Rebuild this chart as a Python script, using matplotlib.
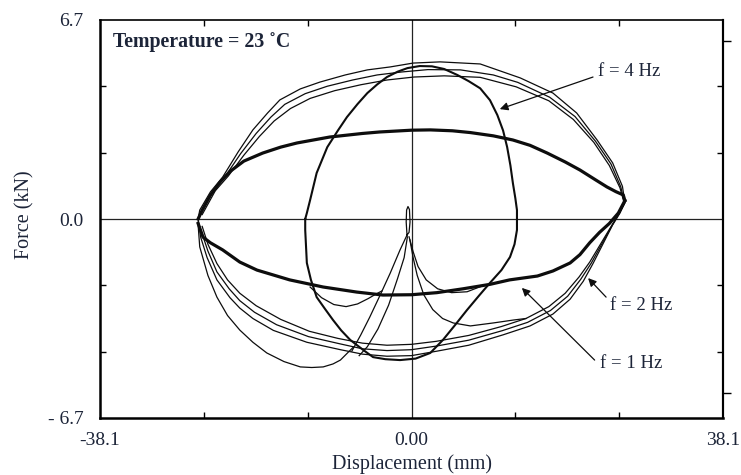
import matplotlib
matplotlib.use('Agg')
import matplotlib.pyplot as plt

plt.rcParams['font.family'] = ['Liberation Serif', 'DejaVu Serif']

# ---- data (displacement mm, force kN) ----
# f = 2 Hz : large loop (outer, middle and inner line of the band of cycles)
f2_up_out_x = [-26.1, -25.9, -24.6, -23.1, -21.2, -19.4, -17.6, -16.1, -13.6, -11.2, -8.1, -5.4, -2.6, 0.2, 3.5, 8.4, 13.3, 17.3, 20.2, 22.7, 24.6, 25.8, 26.1]
f2_up_out_y = [0.0, 0.3, 0.91, 1.41, 2.26, 3.00, 3.57, 4.01, 4.38, 4.61, 4.85, 5.02, 5.12, 5.25, 5.29, 5.22, 4.75, 4.24, 3.57, 2.66, 1.89, 1.10, 0.55]
f2_up_mid_x = [-25.9, -24.3, -22.8, -20.9, -19.0, -17.2, -15.5, -13.0, -10.3, -7.2, -4.2, -1.2, 2.0, 6.0, 10.0, 13.0, 16.9, 20.0, 22.5, 24.4, 25.6, 26.05]
f2_up_mid_y = [0.1, 0.93, 1.43, 2.2, 2.88, 3.43, 3.86, 4.22, 4.47, 4.68, 4.85, 4.95, 5.03, 5.02, 4.85, 4.6, 4.1, 3.45, 2.62, 1.85, 1.08, 0.55]
f2_up_in_x = [-25.6, -24.0, -22.4, -20.5, -18.6, -16.8, -14.8, -12.4, -9.4, -6.2, -3.0, 0.3, 4.0, 8.4, 12.8, 16.8, 19.8, 22.3, 24.2, 25.5, 26.0]
f2_up_in_y = [0.15, 0.95, 1.45, 2.15, 2.78, 3.30, 3.72, 4.06, 4.32, 4.52, 4.68, 4.78, 4.82, 4.77, 4.45, 3.98, 3.35, 2.58, 1.80, 1.05, 0.55]
f2_lo_out_x = [26.1, 25.5, 24.6, 23.4, 22.2, 21.0, 19.4, 17.3, 14.5, 11.2, 7.0, 3.1, 0.0, -3.0, -6.0, -8.7, -12.8, -16.9, -19.4, -21.0, -22.2, -23.8, -25.0, -25.8, -26.1]
f2_lo_out_y = [0.55, 0.2, -0.2, -0.85, -1.5, -2.1, -2.7, -3.2, -3.6, -3.9, -4.25, -4.45, -4.6, -4.62, -4.55, -4.40, -4.15, -3.75, -3.35, -3.0, -2.65, -2.05, -1.3, -0.6, 0.0]
f2_lo_mid_x = [26.05, 25.3, 24.4, 23.2, 22.0, 20.7, 19.1, 17.0, 14.2, 11.1, 7.0, 3.0, 0.0, -3.0, -6.0, -8.8, -12.6, -16.5, -19.2, -21.0, -22.3, -23.8, -24.9, -25.7, -26.1]
f2_lo_mid_y = [0.52, 0.15, -0.28, -0.88, -1.48, -2.03, -2.6, -3.08, -3.48, -3.76, -4.08, -4.28, -4.4, -4.43, -4.37, -4.2, -3.96, -3.56, -3.14, -2.75, -2.35, -1.78, -1.08, -0.42, -0.1]
f2_lo_in_x = [26.0, 25.2, 24.2, 23.0, 21.8, 20.5, 18.8, 16.8, 14.0, 11.0, 7.0, 3.0, 0.0, -3.0, -6.0, -9.0, -12.5, -16.0, -19.0, -21.0, -22.5, -23.8, -24.9, -25.6]
f2_lo_in_y = [0.5, 0.1, -0.35, -0.9, -1.45, -1.95, -2.5, -2.95, -3.35, -3.62, -3.92, -4.12, -4.22, -4.25, -4.18, -4.02, -3.78, -3.38, -2.92, -2.5, -2.05, -1.5, -0.85, -0.25]
# first (transient) cycle, lowest curve on the left
f2_first_x = [-26.1, -25.9, -24.9, -23.8, -22.5, -21.0, -19.4, -17.7, -15.6, -13.6, -12.2, -10.8, -9.6, -8.7, -7.1]
f2_first_y = [-0.2, -0.94, -1.9, -2.63, -3.25, -3.74, -4.15, -4.51, -4.8, -4.98, -5.0, -4.98, -4.88, -4.75, -4.31]

# f = 1 Hz : flat loop
f1_up_x = [-26.1, -25.6, -24.6, -23.4, -22.2, -20.5, -18.2, -16.0, -14.0, -10.0, -6.0, -3.9, 0.0, 2.3, 5.0, 7.2, 10.0, 12.4, 14.5, 16.6, 18.8, 20.6, 22.5, 23.9, 25.0, 25.9, 26.1]
f1_up_y = [0.0, 0.3, 0.8, 1.25, 1.6, 1.95, 2.22, 2.42, 2.56, 2.76, 2.88, 2.93, 2.99, 3.00, 2.97, 2.91, 2.80, 2.66, 2.48, 2.22, 1.92, 1.65, 1.32, 1.08, 0.92, 0.81, 0.62]
f1_lo_x = [26.1, 25.3, 24.2, 23.0, 21.8, 20.6, 19.4, 17.3, 15.4, 12.0, 9.6, 6.3, 3.1, 0.0, -3.5, -6.7, -10.8, -14.9, -18.9, -21.0, -23.1, -24.6, -25.5, -26.1]
f1_lo_y = [0.62, 0.2, -0.15, -0.45, -0.8, -1.2, -1.48, -1.75, -1.92, -2.05, -2.2, -2.35, -2.48, -2.55, -2.56, -2.46, -2.29, -2.05, -1.72, -1.45, -1.04, -0.8, -0.61, -0.15]

# f = 4 Hz : narrow tall loop
f4_x = [-13.0, -12.8, -12.4, -11.6, -10.3, -9.0, -7.9, -6.6, -5.4, -4.2, -3.0, -1.7, -0.5, 1.0, 2.5, 4.0, 5.6, 7.0, 8.4, 9.6, 10.5, 11.2, 11.7, 12.1, 12.4, 12.7, 12.9, 12.9, 12.6, 12.05, 11.0, 9.6, 8.2, 6.8, 5.3, 3.85, 2.3, 0.5, -1.4, -3.2, -4.7, -5.9, -7.5, -8.6, -9.6, -10.6, -11.6, -12.3, -12.8, -13.0]
f4_y = [0.0, 0.2, 0.64, 1.55, 2.42, 2.98, 3.43, 3.87, 4.24, 4.53, 4.78, 4.96, 5.08, 5.15, 5.14, 5.05, 4.85, 4.64, 4.40, 4.0, 3.50, 2.98, 2.42, 1.80, 1.21, 0.70, 0.30, -0.37, -0.85, -1.28, -1.72, -2.15, -2.60, -3.06, -3.58, -4.07, -4.51, -4.70, -4.75, -4.72, -4.65, -4.41, -4.07, -3.75, -3.40, -3.02, -2.63, -2.05, -1.48, -0.37]
# start-up transient of the 4 Hz test (spike at the origin and cusps)
f4_spike_x = [-0.55, -0.65, -0.6, -0.43, -0.25, -0.18, -0.3, -0.55]
f4_spike_y = [-0.54, -0.1, 0.3, 0.42, 0.32, -0.1, -0.45, -0.54]
f4_cusp_l1_x = [-0.55, -1.4, -2.6, -3.9, -5.1, -6.2, -7.3]
f4_cusp_l1_y = [-0.54, -1.04, -1.82, -2.6, -3.3, -3.9, -4.45]
f4_cusp_l2_x = [-0.5, -0.9, -1.7, -2.8, -4.1, -5.4, -6.4]
f4_cusp_l2_y = [-0.6, -1.3, -2.0, -2.9, -3.7, -4.3, -4.6]
f4_arc_l_x = [-12.4, -11.0, -9.5, -8.0, -6.6, -5.3, -4.3, -3.6]
f4_arc_l_y = [-2.29, -2.65, -2.88, -2.95, -2.86, -2.68, -2.52, -2.42]
f4_cusp_r1_x = [-0.3, 0.2, 0.8, 1.8, 3.2, 4.9, 6.8, 8.5]
f4_cusp_r1_y = [-0.6, -1.1, -1.6, -2.05, -2.35, -2.48, -2.45, -2.27]
f4_cusp_r2_x = [-0.2, 0.2, 0.7, 1.5, 2.6, 3.8, 5.1, 7.2, 10.0, 12.5, 14.0]
f4_cusp_r2_y = [-0.7, -1.3, -1.9, -2.55, -3.05, -3.35, -3.5, -3.6, -3.5, -3.4, -3.35]

x_ticks = [-38.1, 0.0, 38.1]
x_tick_labels = ['-38.1', '0.00', '38.1']
y_ticks = [-6.7, 0.0, 6.7]
y_tick_labels = ['- 6.7', '0.0', '6.7']

# ---- figure ----
fig = plt.figure(figsize=(7.41, 4.75), dpi=100)
ax = fig.add_axes([100/741, 1-418/475, 623/741, 398/475])
ax.set_xlim(-38.1, 38.1)
ax.set_ylim(-6.7, 6.7)

ax.axhline(0, color='#222222', lw=0.9, zorder=1)
ax.axvline(0, color='#222222', lw=0.9, zorder=1)

k = '#0d0d0d'
for cx, cy in [(f2_up_out_x, f2_up_out_y), (f2_up_mid_x, f2_up_mid_y),
               (f2_up_in_x, f2_up_in_y), (f2_lo_out_x, f2_lo_out_y),
               (f2_lo_mid_x, f2_lo_mid_y), (f2_lo_in_x, f2_lo_in_y)]:
    ax.plot(cx, cy, color=k, lw=0.9)
ax.plot(f2_first_x, f2_first_y, color=k, lw=0.9)

ax.plot(f1_up_x, f1_up_y, color=k, lw=2.3)
ax.plot(f1_lo_x, f1_lo_y, color=k, lw=2.3)

ax.plot(f4_x + f4_x[:1], f4_y + f4_y[:1], color=k, lw=1.5)
ax.plot(f4_spike_x, f4_spike_y, color=k, lw=0.9)
for cx, cy in [(f4_cusp_l1_x, f4_cusp_l1_y), (f4_cusp_l2_x, f4_cusp_l2_y),
               (f4_arc_l_x, f4_arc_l_y), (f4_cusp_r1_x, f4_cusp_r1_y),
               (f4_cusp_r2_x, f4_cusp_r2_y)]:
    ax.plot(cx, cy, color=k, lw=0.9)

# ticks
txt = '#1c2438'
ax.set_xticks(x_ticks)
ax.set_xticklabels(x_tick_labels)
ax.set_yticks(y_ticks)
ax.set_yticklabels(y_tick_labels)
ax.set_xticks([-25.4, -12.7, 12.7, 25.4], minor=True)
ax.set_yticks([-4.467, -2.233, 2.233, 4.467], minor=True)
ax.tick_params(which='major', length=0, labelsize=14, colors=txt)
ax.tick_params(axis='x', which='major', pad=10)
ax.tick_params(axis='y', which='major', pad=12)
ax.tick_params(which='minor', direction='in', length=4, width=1.0,
               top=True, right=True, bottom=True, left=True)

sec = ax.secondary_yaxis('right')
sec.set_yticks([-5.85, 6.0])
sec.set_yticklabels(['', ''])
sec.tick_params(direction='out', length=6, width=1.0)

for name, lw in [('left', 1.8), ('bottom', 1.8), ('right', 1.5), ('top', 1.2)]:
    ax.spines[name].set_linewidth(lw)
sec.spines['right'].set_linewidth(1.5)

ax.set_xlabel('Displacement (mm)', fontsize=14.5, color=txt)
ax.set_ylabel('Force (kN)', fontsize=14.5, color=txt)
ax.xaxis.set_label_coords(0.5, -0.092)
ax.yaxis.set_label_coords(-0.105, 0.51)

ax.text(-36.5, 5.96, 'Temperature = 23 \u02daC', fontsize=14.3, fontweight='bold',
        va='center', ha='left', color=txt)

arrow = dict(arrowstyle='-|>', color=k, lw=0.9, mutation_scale=12,
             shrinkA=0, shrinkB=0)
ax.annotate('', xy=(10.8, 3.70), xytext=(22.2, 4.78), arrowprops=arrow)
ax.text(22.8, 4.95, 'f = 4 Hz', fontsize=13.5, va='center', ha='left', color=txt)
ax.annotate('', xy=(21.6, -1.99), xytext=(23.8, -2.63), arrowprops=arrow)
ax.text(24.3, -2.90, 'f = 2 Hz', fontsize=13.5, va='center', ha='left', color=txt)
ax.annotate('', xy=(13.5, -2.32), xytext=(22.4, -4.75), arrowprops=arrow)
ax.text(23.05, -4.88, 'f = 1 Hz', fontsize=13.5, va='center', ha='left', color=txt)

fig.savefig('out.png', dpi=100)
